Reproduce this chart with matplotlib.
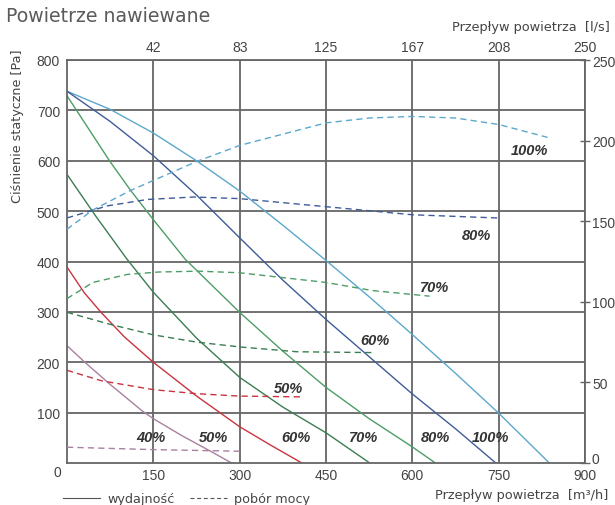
import matplotlib.pyplot as plt
from matplotlib.lines import Line2D
from matplotlib.transforms import ScaledTranslation

# airflow [m3/h] vs static pressure [Pa] (solid, left axis)
x_100 = [0, 75, 150, 225, 300, 375, 450, 525, 600, 675, 750, 838]
p_100 = [738, 702, 655, 600, 540, 472, 402, 330, 255, 178, 99, 0]
x_80 = [0, 75, 150, 225, 300, 375, 450, 525, 600, 675, 745]
p_80 = [738, 678, 610, 532, 447, 363, 285, 211, 137, 68, 0]
x_70 = [0, 75, 110, 150, 205, 300, 375, 450, 525, 600, 640]
p_70 = [729, 598, 542, 483, 405, 299, 222, 150, 88, 32, 0]
x_60 = [0, 50, 104, 150, 225, 300, 375, 450, 526]
p_60 = [573, 490, 405, 339, 248, 170, 111, 60, 0]
x_50 = [0, 30, 60, 100, 150, 225, 300, 350, 408]
p_50 = [389, 338, 298, 250, 200, 133, 72, 38, 0]
x_40 = [0, 31, 75, 130, 150, 200, 250, 286]
p_40 = [233, 200, 156, 104, 88, 54, 23, 0]

# power consumption [W] (dashed, right axis)
xd_100 = [0, 45, 110, 225, 300, 450, 525, 600, 675, 750, 835]
w_100 = [145, 157, 169, 187, 197, 211, 214, 215, 214, 210, 202]
xd_80 = [0, 70, 140, 220, 300, 450, 600, 748]
w_80 = [152, 159.5, 163.5, 165, 164, 159, 154, 152]
xd_70 = [0, 45, 105, 160, 230, 300, 450, 530, 630]
w_70 = [102, 112, 117, 118.5, 119, 118, 112, 107, 103.5]
xd_60 = [0, 75, 150, 225, 300, 400, 530]
w_60 = [93.5, 86, 79.5, 75, 72, 69, 68.5]
xd_50 = [0, 60, 150, 225, 300, 410]
w_50 = [57.5, 51, 45.5, 43, 41.5, 41]
xd_40 = [0, 150, 300]
w_40 = [9.8, 8.3, 7.3]

x_ticks = [150, 300, 450, 600, 750, 900]
top_labels = ['42', '83', '125', '167', '208', '250']
y_ticks = [100, 200, 300, 400, 500, 600, 700, 800]
w_ticks = [0, 50, 100, 150, 200, 250]

# percentage labels: (text, x, pressure)
curve_labels = [('100%', 804, 621), ('80%', 712, 452), ('70%', 638, 350),
                ('60%', 535, 245), ('50%', 384, 148),
                ('40%', 145, 52), ('50%', 254, 52), ('60%', 397, 52),
                ('70%', 516, 52), ('80%', 640, 51), ('100%', 736, 51)]

colors = {'100': '#5ba8cb', '80': '#3f5c98', '70': '#4e9d66',
          '60': '#3a7d52', '50': '#c9343f', '40': '#a9809f'}
grid_c = '#666666'
txt_c = '#444444'

fig = plt.figure(figsize=(6.15, 5.06), dpi=100)
ax = fig.add_axes([67/615, 42/506, 518/615, 403/506])
ax.set_xlim(0, 900)
ax.set_ylim(0, 800)
ax.set_xticks(x_ticks)
ax.set_yticks(y_ticks)
ax.grid(True, color=grid_c, lw=1.3)
ax.set_axisbelow(True)
for s in ax.spines.values():
    s.set_color(grid_c)
    s.set_linewidth(1.3)
ax.tick_params(axis='x', length=0, pad=3.5, labelsize=10, labelcolor=txt_c)
ax.tick_params(axis='y', length=0, pad=5, labelsize=10, labelcolor=txt_c)
for lab in ax.get_xticklabels() + ax.get_yticklabels():
    lab.set_family('Liberation Sans')
ax.annotate('0', xy=(0, 0), xytext=(-10, -9), textcoords='offset pixels',
            ha='center', va='center', fontsize=10, color=txt_c, family='Liberation Sans')

top = ax.secondary_xaxis('top')
top.set_ticks(x_ticks, labels=top_labels)
top.tick_params(length=0, pad=4.5, labelsize=10, labelcolor=txt_c)
for lab in top.get_xticklabels():
    lab.set_family('Liberation Sans')
top.spines['top'].set_visible(False)

lw = 1.0
ax.plot(x_100, p_100, color=colors['100'], lw=lw)
ax.plot(x_80, p_80, color=colors['80'], lw=lw)
ax.plot(x_70, p_70, color=colors['70'], lw=lw)
ax.plot(x_60, p_60, color=colors['60'], lw=lw)
ax.plot(x_50, p_50, color=colors['50'], lw=lw)
ax.plot(x_40, p_40, color=colors['40'], lw=lw)

ax2 = ax.twinx()
ax2.set_ylim(0, 250)
ax2.set_yticks(w_ticks)
ax2.tick_params(axis='y', direction='inout', length=7, width=1, color=grid_c,
                pad=1.5, labelsize=10, labelcolor=txt_c)
for lab in ax2.get_yticklabels():
    lab.set_family('Liberation Sans')
# lift the right-hand "0" a little so it clears the "900" below it
zero_lab = ax2.get_yticklabels()[0]
zero_lab.set_transform(zero_lab.get_transform() + ScaledTranslation(0, 4/72, fig.dpi_scale_trans))
for s in ax2.spines.values():
    s.set_visible(False)
dash = (0, (4.5, 3))
ax2.plot(xd_100, w_100, color=colors['100'], lw=lw, ls=dash)
ax2.plot(xd_80, w_80, color=colors['80'], lw=lw, ls=dash)
ax2.plot(xd_70, w_70, color=colors['70'], lw=lw, ls=dash)
ax2.plot(xd_60, w_60, color=colors['60'], lw=lw, ls=dash)
ax2.plot(xd_50, w_50, color=colors['50'], lw=lw, ls=dash)
ax2.plot(xd_40, w_40, color=colors['40'], lw=lw, ls=dash)

for t, xx, yy in curve_labels:
    ax.text(xx, yy, t, ha='center', va='center', fontsize=10.5, fontweight='bold',
            fontstyle='italic', color='#333333', family='Liberation Sans', zorder=5)

fig.text(6/615, 1 - 17/506, 'Powietrze nawiewane', fontsize=13.6, color='#5a5a5a',
         ha='left', va='center')
fig.text(18/615, 1 - 126/506, 'Ciśnienie statyczne [Pa]', rotation=90, fontsize=9.2,
         color=txt_c, ha='center', va='center')
fig.text(610/615, 1 - 27/506, 'Przepływ powietrza  [l/s]', fontsize=9.3,
         color=txt_c, ha='right', va='center')
fig.text(608/615, 1 - 496/506, 'Przepływ powietrza  [m³/h]', fontsize=9.3,
         color=txt_c, ha='right', va='center')

handles = [Line2D([], [], color='#555555', lw=0.8),
           Line2D([], [], color='#555555', lw=0.8, ls=(0, (3.5, 2.5)))]
fig.legend(handles, ['wydajność', 'pobór mocy'], ncol=2, frameon=False,
           loc='center left', bbox_to_anchor=(63/615, 1 - 500/506),
           borderpad=0, borderaxespad=0, handlelength=2.9, handletextpad=0.55,
           columnspacing=1.2, prop={'size': 9.2}, labelcolor=txt_c)

fig.savefig('out.png', dpi=100)
